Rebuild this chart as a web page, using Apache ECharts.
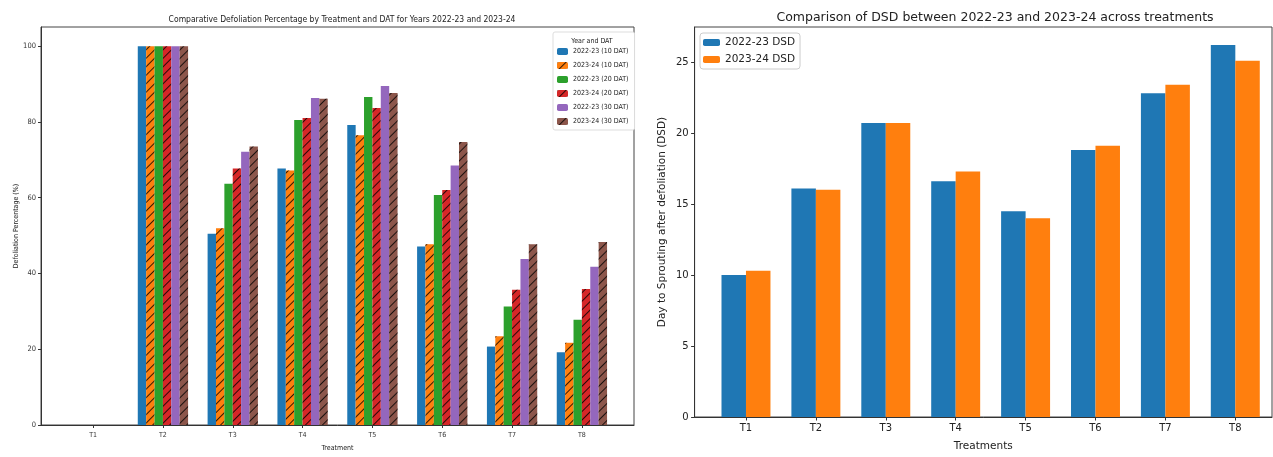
<!DOCTYPE html>
<html>
<head>
<meta charset="utf-8">
<script src="https://cdn.jsdelivr.net/npm/echarts@6/dist/echarts.min.js"></script>
<style>
  html, body { margin: 0; padding: 0; background: #fff; }
  #chart { width: 1273px; height: 457px; }
</style>
</head>
<body>
<div id="chart"></div>
<script>
const treatments = ['T1', 'T2', 'T3', 'T4', 'T5', 'T6', 'T7', 'T8'];

// defoliation percentage (left chart)
const defol2223_10 = [0, 100, 50.5, 67.7, 79.2, 47.1, 20.7, 19.2];
const defol2324_10 = [0, 100, 51.9, 67.2, 76.5, 47.7, 23.4, 21.7];
const defol2223_20 = [0, 100, 63.7, 80.5, 86.6, 60.7, 31.3, 27.8];
const defol2324_20 = [0, 100, 67.7, 81.0, 83.7, 62.0, 35.7, 35.9];
const defol2223_30 = [0, 100, 72.1, 86.3, 89.5, 68.5, 43.8, 41.8];
const defol2324_30 = [0, 100, 73.5, 86.1, 87.6, 74.7, 47.7, 48.3];
const defolNames = ['2022-23 (10 DAT)', '2023-24 (10 DAT)', '2022-23 (20 DAT)',
                    '2023-24 (20 DAT)', '2022-23 (30 DAT)', '2023-24 (30 DAT)'];

// days to sprouting after defoliation (right chart)
const dsd2223 = [10.0, 16.1, 20.7, 16.6, 14.5, 18.8, 22.8, 26.2];
const dsd2324 = [10.3, 16.0, 20.7, 17.3, 14.0, 19.1, 23.4, 25.1];
const dsdNames = ['2022-23 DSD', '2023-24 DSD'];

const colors = ['#1f77b4', '#ff7f0e', '#2ca02c', '#d62728', '#9467bd', '#8c564b'];
const narrow = '"DejaVu Sans Condensed", "DejaVu Sans", sans-serif';
const wide = '"DejaVu Sans", sans-serif';

const hatch = {
    symbol: 'rect',
    symbolSize: 1,
    dashArrayX: [1, 0],
    dashArrayY: [1, 5],
    rotation: -Math.PI / 4,
    color: 'rgba(0,0,0,0.8)'
};

const chart = echarts.init(document.getElementById('chart'));

const leftSeries = [defol2223_10, defol2324_10, defol2223_20, defol2324_20, defol2223_30, defol2324_30]
    .map((vals, i) => ({
        name: defolNames[i],
        type: 'bar',
        xAxisIndex: 0,
        yAxisIndex: 0,
        barWidth: 8.4,
        barGap: '-100%',
        itemStyle: Object.assign({ color: colors[i] }, i % 2 === 1 ? { decal: hatch } : {}),
        data: vals.map((v, k) => [k + (i - 2.5) * 0.12, v])
    }));

const rightSeries = [dsd2223, dsd2324].map((vals, i) => ({
    name: dsdNames[i],
    type: 'bar',
    xAxisIndex: 1,
    yAxisIndex: 1,
    barWidth: 24.5,
    barGap: '-100%',
    itemStyle: { color: colors[i] },
    data: vals.map((v, k) => [k + (i - 0.5) * 0.35, v])
}));

const tickIdx = treatments.map((t, k) => k);

const options = {
    animation: false,
    title: [
        {
            text: 'Comparative Defoliation Percentage by Treatment and DAT for Years 2022-23 and 2023-24',
            left: 337, top: 10, textAlign: 'center',
            textStyle: { fontSize: 8.5, fontWeight: 'normal', color: '#222', fontFamily: narrow }
        },
        {
            text: 'Year and DAT',
            left: 592, top: 38, textAlign: 'center', padding: 0,
            textStyle: { fontSize: 7, fontWeight: 'normal', color: '#222', fontFamily: narrow }
        },
        {
            text: 'Comparison of DSD between 2022-23 and 2023-24 across treatments',
            left: 990, top: 6, textAlign: 'center',
            textStyle: { fontSize: 12.5, fontWeight: 'normal', color: '#222', fontFamily: wide }
        }
    ],
    legend: [
        {
            data: defolNames,
            orient: 'vertical',
            left: 553, top: 32,
            padding: [16, 6, 5, 4],
            itemGap: 7,
            itemWidth: 11, itemHeight: 7,
            backgroundColor: '#fff',
            borderColor: '#ddd', borderWidth: 1, borderRadius: 2,
            textStyle: { fontSize: 7, color: '#222', fontFamily: narrow }
        },
        {
            data: dsdNames,
            orient: 'vertical',
            left: 700, top: 33,
            padding: [4, 5, 4, 3],
            itemGap: 6,
            itemWidth: 17, itemHeight: 7,
            backgroundColor: '#fff',
            borderColor: '#ccc', borderWidth: 1, borderRadius: 3,
            textStyle: { fontSize: 10.5, color: '#222', fontFamily: wide }
        }
    ],
    grid: [
        { left: 41, top: 27, width: 593, bottom: 24.5, show: true, borderColor: '#444', borderWidth: 1 },
        { left: 694.6, top: 27, right: 1, bottom: 29, show: true, borderColor: '#444', borderWidth: 1 }
    ],
    xAxis: [
        {
            type: 'value', gridIndex: 0, min: -0.746, max: 7.746,
            name: 'Treatment', nameLocation: 'middle', nameGap: 20,
            nameTextStyle: { fontSize: 7, color: '#222', fontFamily: narrow },
            splitLine: { show: false },
            axisLine: { onZero: false, lineStyle: { color: '#333' } },
            axisTick: { customValues: tickIdx, length: 3, lineStyle: { color: '#333' } },
            axisLabel: {
                customValues: tickIdx, formatter: v => treatments[Math.round(v)],
                fontSize: 7, color: '#333', margin: 7, fontFamily: narrow
            }
        },
        {
            type: 'value', gridIndex: 1, min: -0.735, max: 7.525,
            name: 'Treatments', nameLocation: 'middle', nameGap: 24,
            nameTextStyle: { fontSize: 10.5, color: '#222', fontFamily: wide },
            splitLine: { show: false },
            axisLine: { onZero: false, lineStyle: { color: '#333' } },
            axisTick: { customValues: tickIdx, length: 3.5, lineStyle: { color: '#333' } },
            axisLabel: {
                customValues: tickIdx, formatter: v => treatments[Math.round(v)],
                fontSize: 10, color: '#222', margin: 6, fontFamily: wide
            }
        }
    ],
    yAxis: [
        {
            type: 'value', gridIndex: 0, min: 0, max: 105.05, interval: 20,
            name: 'Defoliation Percentage (%)', nameLocation: 'middle', nameGap: 19,
            nameTextStyle: { fontSize: 7, color: '#222', fontFamily: narrow },
            splitLine: { show: false },
            axisLine: { show: true, onZero: false, lineStyle: { color: '#333' } },
            axisTick: { show: true, length: 3, lineStyle: { color: '#333' } },
            axisLabel: {
                fontSize: 7.5, color: '#333', margin: 5, fontFamily: narrow,
                showMaxLabel: false
            }
        },
        {
            type: 'value', gridIndex: 1, min: 0, max: 27.47, interval: 5,
            name: 'Day to Sprouting after defoliation (DSD)', nameLocation: 'middle', nameGap: 27,
            nameTextStyle: { fontSize: 10.5, color: '#222', fontFamily: wide },
            splitLine: { show: false },
            axisLine: { show: true, onZero: false, lineStyle: { color: '#333' } },
            axisTick: { show: true, length: 3.5, lineStyle: { color: '#333' } },
            axisLabel: {
                fontSize: 10, color: '#222', margin: 6, fontFamily: wide,
                showMaxLabel: false
            }
        }
    ],
    series: leftSeries.concat(rightSeries)
};

chart.setOption(options);
</script>
</body>
</html>
